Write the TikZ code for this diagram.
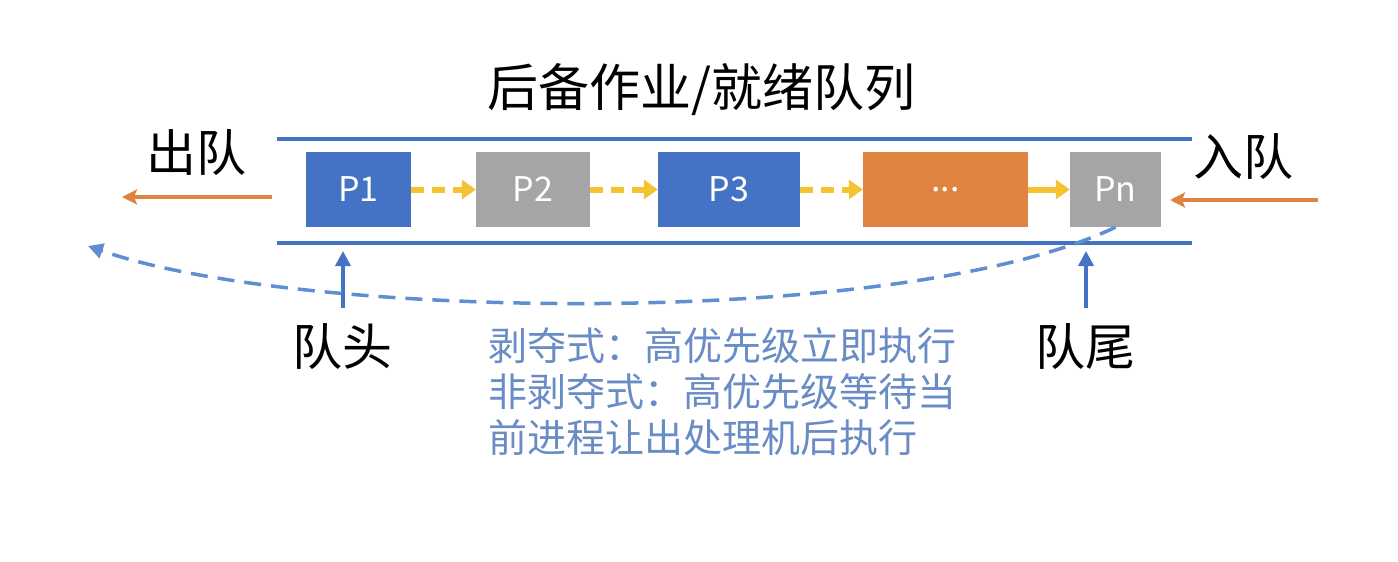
\documentclass[tikz,border=0pt]{standalone}
\usepackage{fontspec}
\setmainfont{Noto Sans CJK SC}
\usetikzlibrary{arrows.meta}
\definecolor{qblue}{HTML}{4472C4}
\definecolor{qgray}{HTML}{A5A5A5}
\definecolor{qorange}{HTML}{E08240}
\definecolor{qyellow}{HTML}{F5C232}
\definecolor{qtext}{HTML}{6A8CC6}
\definecolor{qcurve}{HTML}{5E8FD2}
\begin{document}
\begin{tikzpicture}[x=1pt,y=-1pt,
  pbox/.style={draw=none,minimum height=75pt,inner sep=0pt,text=white,font=\fontsize{34}{40}\selectfont},
  rail/.style={qblue,line width=3.5pt},
  yarrow/.style={qyellow,line width=6pt,dash pattern=on 13pt off 8pt,-{Triangle[length=14pt,width=19pt]}},
  oarrow/.style={qorange,line width=3.5pt,-{Stealth[length=15pt,width=15pt,inset=3pt]}},
  barrow/.style={qblue,line width=3.5pt,-{Triangle[length=15pt,width=15pt]}},
  lbl/.style={inner sep=0pt,font=\fontsize{50}{56}\selectfont},
  note/.style={inner sep=0pt,align=left,text=qtext,font=\fontsize{39}{46}\selectfont}]
\useasboundingbox (0,0) rectangle (1398,562);
% title
\node[lbl,font=\fontsize{51}{56}\selectfont] (title) at (701,90) {后备作业/就绪队列};
% rails
\coordinate (tl) at (277,139); \coordinate (tr) at (1192,139);
\coordinate (bl) at (277,243); \coordinate (br) at (1192,243);
\draw[rail] (tl) -- (tr);
\draw[rail] (bl) -- (br);
% boxes
\node[pbox,fill=qblue,minimum width=105pt] (p1) at (358.5,189.5) {P1};
\node[pbox,fill=qgray,minimum width=114pt] (p2) at (533,189.5) {P2};
\node[pbox,fill=qblue,minimum width=142pt] (p3) at (729,189.5) {P3};
\node[pbox,fill=qorange,minimum width=165pt] (pd) at (945.5,189.5) {...};
\node[pbox,fill=qgray,minimum width=91pt] (pn) at (1115.5,189.5) {Pn};
% yellow arrows
\draw[yarrow] (p1.east) -- (p2.west);
\draw[yarrow] (p2.east) -- (p3.west);
\draw[yarrow] (p3.east) -- (pd.west);
\draw[yarrow,solid] (pd.east) -- (pn.west);
% out / in
\node[lbl] (out) at (196,153) {出队};
\coordinate (outs) at (272,197); \coordinate (oute) at (122,197);
\draw[oarrow] (outs) -- (oute);
\node[lbl] (in) at (1243,157) {入队};
\coordinate (ins) at (1318,200); \coordinate (ine) at (1170,200);
\draw[oarrow] (ins) -- (ine);
% head / tail
\node[lbl] (head) at (342,347) {队头};
\coordinate (hs) at (343,308); \coordinate (he) at (343,251);
\draw[barrow] (hs) -- (he);
\node[lbl] (tail) at (1085,347) {队尾};
\coordinate (ts) at (1086,308); \coordinate (te) at (1086,251);
\draw[barrow] (ts) -- (te);
% dashed curve
\coordinate (ce) at (88,246);
\draw[qcurve,line width=3.5pt,dash pattern=on 17pt off 10pt,-{Triangle[length=15pt,width=15pt]}]
  (pn.south) .. controls (900,330) and (300,320) .. (ce);
% note
\node[note,anchor=north west] (note) at (488,327) {剥夺式：高优先级立即执行\\非剥夺式：高优先级等待当\\前进程让出处理机后执行};
\end{tikzpicture}
\end{document}
